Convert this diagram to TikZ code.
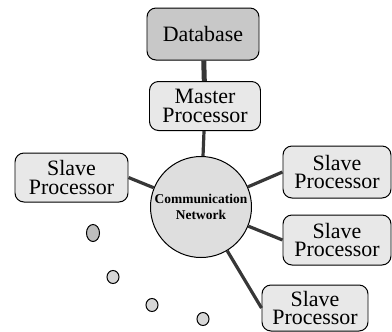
\documentclass[tikz,border=0pt]{standalone}
\usepackage{fontspec}
\setmainfont{Liberation Serif}
\usetikzlibrary{shapes.geometric}

\tikzset{
    procbox/.style={draw, line width=1pt, rounded corners=9bp, fill=boxcolor, align=center,
        inner sep=0pt, minimum width=110bp, minimum height=50bp,
        font=\fontsize{22}{19}\selectfont},
    link/.style={draw=linkcolor, line width=3.2bp},
    hole/.style={draw, line width=1pt, ellipse, fill=holecolor, minimum width=12bp, minimum height=13bp, inner sep=0pt}
}

\begin{document}
\begin{tikzpicture}[x=1bp,y=-1bp, line width=1pt]
        \definecolor{boxcolor}{RGB}{232, 232, 232}
        \definecolor{dbcolor}{RGB}{200, 200, 200}
        \definecolor{netcolor}{RGB}{222, 222, 222}
        \definecolor{holecolor}{RGB}{215, 215, 215}
        \definecolor{linkcolor}{RGB}{55, 55, 55}

        \useasboundingbox (0,0) rectangle (392,332);

        % Draw master side
        \node[procbox, fill=dbcolor, minimum width=112bp, minimum height=52bp] (db) at (203,34) {Database};
        \node[procbox, minimum width=111bp, minimum height=49bp] (master) at (205,106) {Master\\Processor};

        % Draw network
        \node[draw, circle, fill=netcolor, minimum size=101bp, inner sep=0pt, align=center,
            font=\fontsize{13.5}{16}\selectfont\bfseries] (net) at (201,207) {Communication\\Network};

        % Draw slaves
        \node[procbox, minimum width=113bp, minimum height=49bp] (slave0) at (71.5,177.5) {Slave\\Processor};
        \node[procbox, minimum width=108bp, minimum height=52bp] (slave1) at (337,172) {Slave\\Processor};
        \node[procbox, minimum width=108bp] (slave2) at (337,240) {Slave\\Processor};
        \node[procbox, minimum width=106bp, minimum height=46bp] (slave3) at (315,308) {Slave\\Processor};

        % Draw links
        \draw[link, line width=5bp] (db) -- (master);
        \draw[link] (master) -- (net);
        \draw[link] (net) -- (slave0.east);
        \draw[link] (net) -- (slave1.west);
        \draw[link] (net) -- (slave2.west);
        \draw[link] (net) -- (slave3.west);

        % Draw further slaves
        \node[hole, minimum width=13bp, minimum height=17bp, fill=holecolor!88!black] (h0) at (93,233) {};
        \node[hole] (h1) at (113,277) {};
        \node[hole] (h2) at (152,305) {};
        \node[hole] (h3) at (203,319) {};
    \end{tikzpicture}
\end{document}
